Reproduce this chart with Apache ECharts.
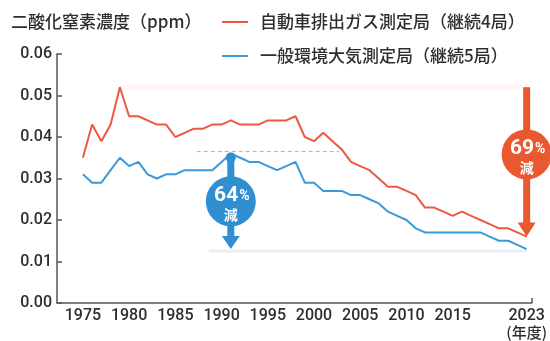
<!DOCTYPE html>
<html>
<head>
<meta charset="utf-8">
<script src="https://cdn.jsdelivr.net/npm/echarts@6/dist/echarts.min.js"></script>
<style>
  html, body { margin: 0; padding: 0; background: #fff; }
  #chart { width: 550px; height: 341px; }
</style>
</head>
<body>
<div id="chart"></div>
<script>
// Fiscal years (年度)
const years = [
  1975, 1976, 1977, 1978, 1979, 1980, 1981, 1982, 1983, 1984,
  1985, 1986, 1987, 1988, 1989, 1990, 1991, 1992, 1993, 1994,
  1995, 1996, 1997, 1998, 1999, 2000, 2001, 2002, 2003, 2004,
  2005, 2006, 2007, 2008, 2009, 2010, 2011, 2012, 2013, 2014,
  2015, 2016, 2017, 2018, 2019, 2020, 2021, 2022, 2023
];

// NO2 annual mean (ppm), roadside stations (4 continuous sites)
const roadside = [
  0.035, 0.043, 0.039, 0.043, 0.052, 0.045, 0.045, 0.044, 0.043, 0.043,
  0.040, 0.041, 0.042, 0.042, 0.043, 0.043, 0.044, 0.043, 0.043, 0.043,
  0.044, 0.044, 0.044, 0.045, 0.040, 0.039, 0.041, 0.039, 0.037, 0.034,
  0.033, 0.032, 0.030, 0.028, 0.028, 0.027, 0.026, 0.023, 0.023, 0.022,
  0.021, 0.022, 0.021, 0.020, 0.019, 0.018, 0.018, 0.017, 0.016
];

// NO2 annual mean (ppm), ambient stations (5 continuous sites)
const ambient = [
  0.031, 0.029, 0.029, 0.032, 0.035, 0.033, 0.034, 0.031, 0.030, 0.031,
  0.031, 0.032, 0.032, 0.032, 0.032, 0.034, 0.036, 0.035, 0.034, 0.034,
  0.033, 0.032, 0.033, 0.034, 0.029, 0.029, 0.027, 0.027, 0.027, 0.026,
  0.026, 0.025, 0.024, 0.022, 0.021, 0.020, 0.018, 0.017, 0.017, 0.017,
  0.017, 0.017, 0.017, 0.017, 0.016, 0.015, 0.015, 0.014, 0.013
];

const xTickLabels = [1975, 1980, 1985, 1990, 1995, 2000, 2005, 2010, 2015, 2023];

const seriesNames = ['自動車排出ガス測定局（継続4局）', '一般環境大気測定局（継続5局）'];
const titleText = '二酸化窒素濃度（ppm）';
const yearUnit = '(年度)';

const RED = '#EE5843';
const BLUE = '#3A9AD9';
const RED_MARK = '#E9582F';
const BLUE_MARK = '#2F8FD1';
const TEXT = '#2e2e2e';

const X_MIN = 1972.2;
const X_MAX = 2023.55;

function pairs(vals) { return years.map((y, i) => [y, vals[i]]); }

function peakOf(vals) {
  let idx = 0;
  vals.forEach((v, i) => { if (v > vals[idx]) idx = i; });
  return { year: years[idx], value: vals[idx] };
}

const lastYear = years[years.length - 1];
const redPeak = peakOf(roadside);
const bluePeak = peakOf(ambient);
const redLast = roadside[roadside.length - 1];
const blueLast = ambient[ambient.length - 1];

// Reduction markers: arrow from peak level down to the latest value
const drops = [
  { kind: 'ambient', x: bluePeak.year, top: bluePeak.value, bottom: blueLast,
    peakYear: bluePeak.year, color: BLUE_MARK, circleAt: 0.5 },
  { kind: 'roadside', x: lastYear, top: redPeak.value, bottom: redLast,
    peakYear: redPeak.year, color: RED_MARK, circleAt: 0.45 }
];
drops.forEach(d => { d.pct = Math.round((1 - d.bottom / d.top) * 100); });

const chart = echarts.init(document.getElementById('chart'), null, { renderer: 'canvas' });

function renderDrop(params, api) {
  const d = drops[params.dataIndex];
  const pTop = api.coord([d.x, d.top]);
  const pBot = api.coord([d.x, d.bottom]);
  const pEnd = api.coord([lastYear, d.bottom]);
  const pPeak = api.coord([d.peakYear, d.top]);
  const cy = api.coord([d.x, d.top - d.circleAt * (d.top - d.bottom)])[1];
  const cx = pTop[0];
  const headH = d.kind === 'roadside' ? 14 : 13;
  const headW = 9;
  const shaftW = 7;
  const children = [];

  if (d.kind === 'ambient') {
    // faint base line at the latest level
    children.push({
      type: 'line',
      shape: { x1: cx - 22, y1: pBot[1] + 2, x2: pEnd[0], y2: pEnd[1] + 2 },
      style: { stroke: 'rgba(0,0,0,0.07)', lineWidth: 3 }
    });
    // dashed guide at the peak level
    children.push({
      type: 'line',
      shape: { x1: cx - 34, y1: pTop[1] - 2, x2: cx + 108, y2: pTop[1] - 2 },
      style: { stroke: '#9FB3C4', lineWidth: 1, lineDash: [4, 3] }
    });
  } else {
    // faint guide at the peak level
    children.push({
      type: 'line',
      shape: { x1: pPeak[0], y1: pPeak[1], x2: cx, y2: pTop[1] },
      style: { stroke: 'rgba(238,88,67,0.06)', lineWidth: 5 }
    });
  }

  children.push({
    type: 'rect',
    shape: { x: cx - shaftW / 2, y: pTop[1], width: shaftW, height: pBot[1] - headH - pTop[1] + 1 },
    style: { fill: d.color }
  });
  if (d.kind === 'ambient') {
    children.push({
      type: 'circle',
      shape: { cx: cx, cy: pTop[1] + 4, r: 5 },
      style: { fill: d.color }
    });
  }
  children.push({
    type: 'polygon',
    shape: { points: [[cx - headW, pBot[1] - headH], [cx + headW, pBot[1] - headH], [cx, pBot[1]]] },
    style: { fill: d.color }
  });
  children.push({
    type: 'circle',
    shape: { cx: cx, cy: cy, r: 25 },
    style: { fill: d.color }
  });
  children.push({
    type: 'text',
    x: cx + 1, y: cy - 6,
    style: {
      text: '{n|' + d.pct + '}{p|%}',
      align: 'center', verticalAlign: 'middle', fill: '#fff',
      rich: {
        n: { fontSize: 21, fontWeight: 'bold', fontFamily: 'Roboto', fill: '#fff', lineHeight: 24 },
        p: { fontSize: 14, fontWeight: 'bold', fontFamily: 'Roboto', fill: '#fff', lineHeight: 24, padding: [3, 0, 0, 1] }
      }
    }
  });
  children.push({
    type: 'text',
    x: cx, y: cy + 13,
    style: {
      text: '減', align: 'center', verticalAlign: 'middle', fill: '#fff',
      fontSize: 14, fontWeight: 'bold', fontFamily: 'Noto Sans CJK JP'
    }
  });
  return { type: 'group', children: children };
}

const option = {
  animation: false,
  backgroundColor: '#fff',
  title: {
    text: titleText,
    left: 11, top: 12, padding: 0,
    textStyle: { fontSize: 17, fontWeight: 500, color: TEXT, fontFamily: 'Noto Sans CJK JP', lineHeight: 20 }
  },
  legend: {
    orient: 'vertical',
    left: 222, top: 12, padding: 0,
    itemWidth: 26, itemHeight: 2, itemGap: 14,
    icon: 'rect',
    data: seriesNames,
    textStyle: { fontSize: 17, fontWeight: 500, color: TEXT, fontFamily: 'Noto Sans CJK JP', lineHeight: 20, padding: [0, 0, 0, 7] }
  },
  grid: { left: 57, right: 18, top: 54, bottom: 38 },
  xAxis: {
    type: 'value',
    min: X_MIN, max: X_MAX,
    axisLine: { show: true, lineStyle: { color: '#555', width: 1.5 } },
    axisTick: { show: true, inside: true, length: 5, customValues: [X_MAX], lineStyle: { color: '#555', width: 1.5 } },
    splitLine: { show: false },
    axisLabel: {
      customValues: xTickLabels,
      margin: 5,
      color: TEXT, fontSize: 16, fontWeight: 500, fontFamily: 'Roboto',
      formatter: v => v === lastYear ? v + '\n{u|' + yearUnit + '}' : String(v),
      rich: { u: { fontSize: 15, fontWeight: 500, fontFamily: 'Noto Sans CJK JP', color: TEXT, lineHeight: 17 } }
    }
  },
  yAxis: {
    type: 'value',
    min: 0, max: 0.06, interval: 0.01,
    axisLine: { show: true, lineStyle: { color: '#555', width: 1.5 } },
    axisTick: { show: true, inside: true, length: 5, lineStyle: { color: '#555', width: 1.5 } },
    splitLine: { show: false },
    axisLabel: { margin: 5, color: TEXT, fontSize: 16, fontWeight: 500, fontFamily: 'Roboto', formatter: v => v.toFixed(2) }
  },
  series: [
    {
      name: seriesNames[0], type: 'line', data: pairs(roadside),
      color: RED, showSymbol: false, lineStyle: { width: 2, color: RED }, z: 3
    },
    {
      name: seriesNames[1], type: 'line', data: pairs(ambient),
      color: BLUE, showSymbol: false, lineStyle: { width: 2, color: BLUE }, z: 3
    },
    {
      type: 'custom', silent: true, z: 4,
      data: drops.map(d => [d.x, d.top, d.bottom]),
      encode: { x: 0, y: [1, 2] },
      renderItem: renderDrop
    }
  ]
};

chart.setOption(option);
</script>
</body>
</html>
